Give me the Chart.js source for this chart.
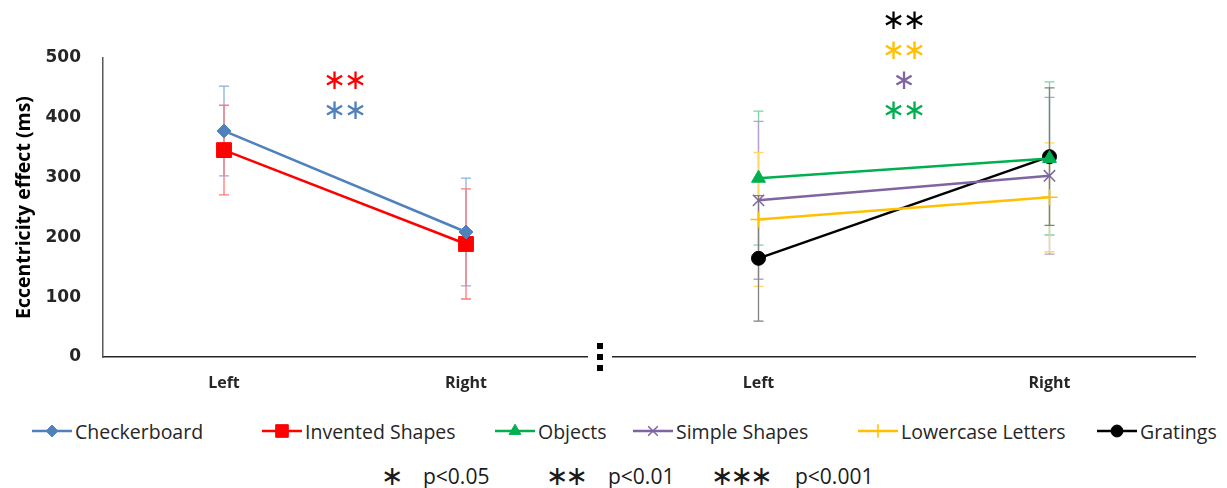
<!DOCTYPE html>
<html lang="en">
<head>
<meta charset="UTF-8">
<title>Eccentricity effect</title>
<script src="https://cdn.jsdelivr.net/npm/chart.js"></script>
<style>
  body {
    margin: 0;
    width: 1227px;
    height: 488px;
    background: #fff;
    position: relative;
    overflow: hidden;
    font-family: 'Open Sans', sans-serif;
  }
  .panel { position: absolute; top: 0; height: 400px; }
  #leftPanel { left: 0; width: 600px; }
  #rightPanel { left: 600px; width: 627px; }
  .dot { position: absolute; left: 597px; width: 6px; height: 6px; background: #000; }
  .legend-item {
    position: absolute;
    top: 411px;
    height: 40px;
    display: flex;
    align-items: center;
    font-size: 19.5px;
    color: #262626;
    white-space: nowrap;
  }
  .legend-item canvas { margin-right: 3px; }
  .key { position: absolute; top: 462px; font-size: 21px; color: #1a1a1a; line-height: 28px; }
  .key .star { font-family: 'DejaVu Sans'; font-size: 27px; letter-spacing: -3px; }
</style>
</head>
<body>

<div class="panel" id="leftPanel"><canvas id="leftChart"></canvas></div>
<div class="panel" id="rightPanel"><canvas id="rightChart"></canvas></div>

<div class="dot" style="top:343px"></div>
<div class="dot" style="top:354px"></div>
<div class="dot" style="top:365px"></div>

<div id="legend"></div>

<div class="key" style="left:381px"><span class="star">∗</span></div>
<div class="key" style="left:423px">p&lt;0.05</div>
<div class="key" style="left:546px"><span class="star">∗∗</span></div>
<div class="key" style="left:608px">p&lt;0.01</div>
<div class="key" style="left:711px"><span class="star">∗∗∗</span></div>
<div class="key" style="left:795px">p&lt;0.001</div>

<script>
// side of the visual field
const categories = ['Left', 'Right'];
const yTicks = [0, 100, 200, 300, 400, 500];

// mean eccentricity effect (ms) and error bar half-length per stimulus type
const checkerboard = [378, 209];
const checkerboardErr = [75, 90];
const inventedShapes = [346, 189];
const inventedShapesErr = [75, 92];
const objects = [299, 332];
const objectsErr = [112, 128];
const simpleShapes = [262, 303];
const simpleShapesErr = [132, 131];
const lowercaseLetters = [230, 267];
const lowercaseLettersErr = [112, 91];
const gratings = [165, 335];
const gratingsErr = [105, 115];

// significance markers stacked above each panel
const leftStars = [
  { text: '∗∗', color: '#FF0000' },
  { text: '∗∗', color: '#4F81BD' }
];
const rightStars = [
  { text: '∗∗', color: '#000000' },
  { text: '∗∗', color: '#FFC000' },
  { text: '∗', color: '#8064A2' },
  { text: '∗∗', color: '#00B050' }
];

function series(label, data, errors, color, errorColor, pointStyle, radius) {
  return {
    label, data, errors, errorColor,
    borderColor: color,
    backgroundColor: color,
    borderWidth: 2.5,
    pointStyle,
    pointRadius: radius,
    pointBorderWidth: pointStyle.startsWith('cross') ? 1.5 : 1,
    pointBorderColor: color,
    pointBackgroundColor: color
  };
}

const leftSeries = [
  series('Checkerboard', checkerboard, checkerboardErr, '#4F81BD', '#8DB0DE', 'rectRot', 7),
  series('Invented Shapes', inventedShapes, inventedShapesErr, '#FF0000', '#FF7A7A', 'rect', 10.5)
];
const rightSeries = [
  series('Objects', objects, objectsErr, '#00B050', '#7FD4A4', 'triangle', 8),
  series('Simple Shapes', simpleShapes, simpleShapesErr, '#8064A2', '#B3A2CF', 'crossRot', 8),
  series('Lowercase Letters', lowercaseLetters, lowercaseLettersErr, '#FFC000', '#FFD766', 'cross', 8),
  series('Gratings', gratings, gratingsErr, '#000000', '#808080', 'circle', 7)
];

// vertical error bars with caps, drawn under the lines
const errorBars = {
  id: 'errorBars',
  beforeDatasetsDraw(chart) {
    const ctx = chart.ctx;
    const y = chart.scales.y;
    ctx.save();
    ctx.lineWidth = 1.3;
    chart.data.datasets.forEach((ds, i) => {
      const meta = chart.getDatasetMeta(i);
      ctx.strokeStyle = ds.errorColor;
      meta.data.forEach((pt, j) => {
        const top = y.getPixelForValue(ds.data[j] + ds.errors[j]);
        const bot = y.getPixelForValue(ds.data[j] - ds.errors[j]);
        ctx.beginPath();
        ctx.moveTo(pt.x, top); ctx.lineTo(pt.x, bot);
        ctx.moveTo(pt.x - 5, top); ctx.lineTo(pt.x + 5, top);
        ctx.moveTo(pt.x - 5, bot); ctx.lineTo(pt.x + 5, bot);
        ctx.stroke();
      });
    });
    ctx.restore();
  }
};

// rows of asterisks centred between the two categories
const starRows = {
  id: 'starRows',
  afterDatasetsDraw(chart, args, opts) {
    const ctx = chart.ctx;
    const x = chart.scales.x;
    const cx = (x.getPixelForValue(0) + x.getPixelForValue(1)) / 2;
    ctx.save();
    ctx.font = '28px "DejaVu Sans"';
    ctx.textAlign = 'center';
    ctx.textBaseline = 'middle';
    opts.rows.forEach((r, i) => {
      const y = opts.bottom - (opts.rows.length - 1 - i) * 30;
      const chars = Array.from(r.text);
      ctx.fillStyle = r.color;
      chars.forEach((ch, k) => {
        ctx.fillText(ch, cx + (k - (chars.length - 1) / 2) * 21, y);
      });
    });
    ctx.restore();
  }
};

function makeChart(id, datasets, stars, showY, padding) {
  return new Chart(document.getElementById(id), {
    type: 'line',
    data: { labels: categories, datasets },
    options: {
      responsive: true,
      maintainAspectRatio: false,
      animation: false,
      layout: { padding },
      plugins: {
        legend: { display: false },
        tooltip: { enabled: false },
        starRows: { rows: stars, bottom: 112 }
      },
      scales: {
        x: {
          offset: true,
          grid: { display: false, drawTicks: false },
          border: { display: true, color: '#262626', width: 1.5 },
          ticks: {
            padding: 17,
            color: '#262626',
            font: { family: 'Open Sans', size: 16, weight: 'bold' }
          },
          afterFit(scale) { scale.height = 43; }
        },
        y: {
          display: showY,
          min: 0,
          max: 500,
          afterBuildTicks(scale) { scale.ticks = yTicks.map(v => ({ value: v })); },
          grid: { display: false, drawTicks: false },
          border: { display: true, color: '#595959', width: 1.5 },
          ticks: {
            padding: 22,
            color: '#262626',
            font: { family: 'DejaVu Sans', size: 17, weight: 'bold' }
          },
          title: {
            display: true,
            text: 'Eccentricity effect (ms)',
            color: '#000',
            padding: { top: 13, bottom: 0 },
            font: { family: 'Open Sans', size: 19.5, weight: 'bold' }
          },
          afterFit(scale) { scale.width = showY ? 103 : 0; }
        }
      }
    },
    plugins: [errorBars, starRows]
  });
}

makeChart('leftChart', leftSeries, leftStars, true, { top: 58, right: 13, left: 0, bottom: 0 });
makeChart('rightChart', rightSeries, rightStars, false, { top: 58, right: 32, left: 13, bottom: 0 });

// legend entries: short line with the series marker, then the name
const legendLefts = [32, 262, 495, 633, 858, 1097];
const legend = document.getElementById('legend');
leftSeries.concat(rightSeries).forEach((ds, i) => {
  const item = document.createElement('div');
  item.className = 'legend-item';
  item.style.left = legendLefts[i] + 'px';
  const c = document.createElement('canvas');
  c.width = 40; c.height = 20;
  const ctx = c.getContext('2d');
  ctx.strokeStyle = ds.borderColor;
  ctx.fillStyle = ds.borderColor;
  ctx.lineWidth = 2.5;
  ctx.beginPath(); ctx.moveTo(0, 10); ctx.lineTo(40, 10); ctx.stroke();
  ctx.lineWidth = ds.pointBorderWidth;
  Chart.helpers.drawPoint(ctx, {
    pointStyle: ds.pointStyle,
    radius: ds.pointRadius * 0.85,
    rotation: 0,
    borderWidth: ds.pointBorderWidth
  }, 20, 10);
  item.appendChild(c);
  const span = document.createElement('span');
  span.textContent = ds.label;
  item.appendChild(span);
  legend.appendChild(item);
});
</script>
</body>
</html>
